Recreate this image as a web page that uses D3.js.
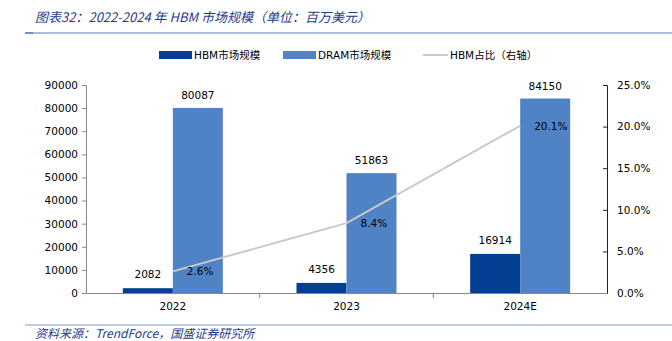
<!DOCTYPE html>
<html>
<head>
<meta charset="utf-8">
<script src="https://cdn.jsdelivr.net/npm/d3@7"></script>
<style>
  body { margin: 0; background: #fff; }
  text { font-family: "DejaVu Sans", "Noto Sans CJK SC", sans-serif; }
</style>
</head>
<body>
<div id="chart"></div>
<script>
// chart data
const years = ["2022", "2023", "2024E"];
const hbm = [2082, 4356, 16914];
const dram = [80087, 51863, 84150];
const share = [0.026, 0.084, 0.201];
const leftTicks = [0, 10000, 20000, 30000, 40000, 50000, 60000, 70000, 80000, 90000];
const rightTicks = [0, 0.05, 0.10, 0.15, 0.20, 0.25];

const width = 672, height = 341;
const margin = { top: 85, right: 65, bottom: 48, left: 86 };
const plotW = width - margin.left - margin.right;
const plotH = height - margin.top - margin.bottom;

const svg = d3.select("#chart").append("svg")
  .attr("width", width)
  .attr("height", height);

// title + rule
svg.append("text")
  .attr("x", 35).attr("y", 22)
  .style("font-family", "'Noto Sans CJK SC', sans-serif")
  .style("font-style", "italic")
  .style("font-size", "13px")
  .style("fill", "#1f3c8c")
  .text("图表32：2022-2024 年 HBM 市场规模（单位：百万美元）");

svg.append("line")
  .attr("x1", 25).attr("x2", width).attr("y1", 33).attr("y2", 33)
  .attr("stroke", "#a9bddd").attr("stroke-width", 2);
svg.append("line")
  .attr("x1", 25).attr("x2", 33).attr("y1", 33).attr("y2", 33)
  .attr("stroke", "#6f8fc4").attr("stroke-width", 2);

// footer
svg.append("line")
  .attr("x1", 25).attr("x2", width).attr("y1", 325).attr("y2", 325)
  .attr("stroke", "#a9bddd").attr("stroke-width", 1.5);
svg.append("text")
  .attr("x", 35).attr("y", 338)
  .style("font-family", "'Noto Sans CJK SC', sans-serif")
  .style("font-style", "italic")
  .style("font-size", "12px")
  .style("fill", "#1f3c8c")
  .text("资料来源：TrendForce，国盛证券研究所");

const g = svg.append("g")
  .attr("transform", `translate(${margin.left},${margin.top})`);

// scales
const x = d3.scaleBand().domain(years).range([0, plotW]);
const yL = d3.scaleLinear().domain([0, 90000]).range([plotH, 0]);
const yR = d3.scaleLinear().domain([0, 0.25]).range([plotH, 0]);
const barW = 50;

// left axis
const leftAxis = g.append("g")
  .call(d3.axisLeft(yL).tickValues(leftTicks).tickSize(4).tickPadding(4).tickFormat(d3.format("d")));
leftAxis.select(".domain").attr("stroke", "#888");
leftAxis.selectAll(".tick line").attr("stroke", "#888");
leftAxis.selectAll("text").style("font-size", "10.5px").style("fill", "#000");

// right axis
const rightAxis = g.append("g")
  .attr("transform", `translate(${plotW},0)`)
  .call(d3.axisRight(yR).tickValues(rightTicks).tickSize(-4).tickPadding(10).tickFormat(d3.format(".1%")));
rightAxis.select(".domain").attr("stroke", "#222");
rightAxis.selectAll(".tick line").attr("stroke", "#222");
rightAxis.selectAll("text").style("font-size", "10.5px").style("fill", "#000");

// x axis
const xAxis = g.append("g")
  .attr("transform", `translate(0,${plotH})`)
  .call(d3.axisBottom(x).tickSize(0).tickPadding(10));
xAxis.select(".domain").attr("stroke", "#888");
xAxis.selectAll("text").style("font-size", "10.5px").style("fill", "#000");
xAxis.selectAll(".sep")
  .data(years.slice(1))
  .enter().append("line")
  .attr("x1", d => x(d)).attr("x2", d => x(d))
  .attr("y1", 0).attr("y2", 5)
  .attr("stroke", "#888");

// bars
g.selectAll(".hbm")
  .data(years)
  .enter().append("rect")
  .attr("x", d => x(d) + x.bandwidth() / 2 - barW)
  .attr("y", (d, i) => yL(hbm[i]))
  .attr("width", barW)
  .attr("height", (d, i) => plotH - yL(hbm[i]))
  .attr("fill", "#033f93");

g.selectAll(".dram")
  .data(years)
  .enter().append("rect")
  .attr("x", d => x(d) + x.bandwidth() / 2)
  .attr("y", (d, i) => yL(dram[i]))
  .attr("width", barW)
  .attr("height", (d, i) => plotH - yL(dram[i]))
  .attr("fill", "#4f83c5");

// bar labels
g.selectAll(".hbmLab")
  .data(years)
  .enter().append("text")
  .attr("x", d => x(d) + x.bandwidth() / 2 - barW / 2)
  .attr("y", (d, i) => yL(hbm[i]) - 10)
  .attr("text-anchor", "middle")
  .style("font-size", "10.5px")
  .text((d, i) => hbm[i]);

g.selectAll(".dramLab")
  .data(years)
  .enter().append("text")
  .attr("x", d => x(d) + x.bandwidth() / 2 + barW / 2)
  .attr("y", (d, i) => yL(dram[i]) - 9)
  .attr("text-anchor", "middle")
  .style("font-size", "10.5px")
  .text((d, i) => dram[i]);

// share line
const line = d3.line()
  .x((d, i) => x(years[i]) + x.bandwidth() / 2)
  .y(d => yR(d));

g.append("path")
  .datum(share)
  .attr("d", line)
  .attr("fill", "none")
  .attr("stroke", "#c9c9c9")
  .attr("stroke-width", 2);

g.selectAll(".shareLab")
  .data(share)
  .enter().append("text")
  .attr("x", (d, i) => x(years[i]) + x.bandwidth() / 2 + 14)
  .attr("y", d => yR(d) + 4)
  .style("font-size", "10.5px")
  .text(d => d3.format(".1%")(d));

// legend
const legend = svg.append("g").attr("transform", "translate(0,55)");
legend.append("rect").attr("x", 159).attr("y", -4).attr("width", 33).attr("height", 8).attr("fill", "#033f93");
legend.append("text").attr("x", 194).attr("y", 4).style("font-size", "10.5px").text("HBM市场规模");
legend.append("rect").attr("x", 283).attr("y", -4).attr("width", 33).attr("height", 8).attr("fill", "#4f83c5");
legend.append("text").attr("x", 318).attr("y", 4).style("font-size", "10.5px").text("DRAM市场规模");
legend.append("line").attr("x1", 423).attr("x2", 448).attr("y1", 0).attr("y2", 0).attr("stroke", "#c9c9c9").attr("stroke-width", 2);
legend.append("text").attr("x", 450).attr("y", 4).style("font-size", "10.5px").text("HBM占比（右轴）");
</script>
</body>
</html>
